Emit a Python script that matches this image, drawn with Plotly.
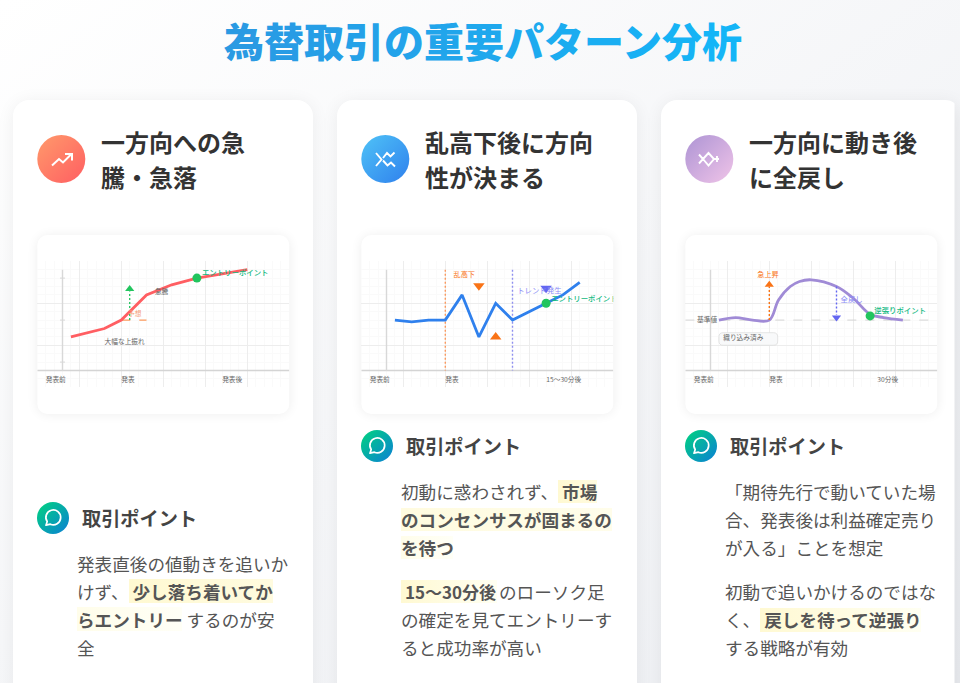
import base64
import plotly.graph_objects as go

# page size, everything below is placed in these pixels
W = 960
H = 683
FONT = "Noto Sans CJK JP"

title = "為替取引の重要パターン分析"
point_label = "取引ポイント"

# mini chart 1
x1 = [40, 80, 100, 130, 160, 190, 250]
y1 = [90, 80, 70, 40, 28, 20, 10]
entry1 = (190, 20)

# mini chart 2
x2 = [40, 60, 80, 100, 120, 140, 160, 180, 220, 240, 260]
y2 = [70, 72, 70, 70, 40, 90, 50, 70, 50, 40, 25]
entry2 = (220, 50)

# mini chart 3
x3 = [40, 60, 80, 100, 111, 125, 136, 150, 180, 200, 220, 236, 259]
y3 = [70, 67, 70, 70, 46, 30, 24, 22, 30, 44, 63, 67, 70]
entry3 = (220, 65)

y_ticks1 = [20, 70, 120]
headings = [["一方向への急", "騰・急落"], ["乱高下後に方向", "性が決まる"], ["一方向に動き後", "に全戻し"]]

# body text lines, <b> parts carry the yellow marker
body1 = ["発表直後の値動きを追いか", "けず、 <b>少し落ち着いてか</b>", "<b>らエントリー</b> するのが安", "全"]
body2 = ["初動に惑わされず、 <b>市場</b>", "<b>のコンセンサスが固まるの</b>", "<b>を待つ</b>",
         "", "の確定を見てエントリーす", "ると成功率が高い"]
body2_bold = "<b>15〜30分後</b>"
body2_rest = "のローソク足"
body3 = ["「期待先行で動いていた場", "合、発表後は利益確定売り", "が入る」ことを想定",
         "初動で追いかけるのではな", "く、 <b>戻しを待って逆張り</b>", "する戦略が有効"]

card_x = [13, 337, 661]
chart_x = [37.3, 361.3, 685.3]
RED = "#ff5e62"
BLUE = "#2f80ed"
PURPLE = "#a08bd6"
GREEN = "#22c55e"
ORANGE = "#f97316"
INDIGO = "#6366f1"
DOTTED = "2px,2px"


def rrect(x0, y0, x1_, y1_, r, fill, extra=""):
    return (f'<rect x="{x0}" y="{y0}" width="{x1_ - x0}" height="{y1_ - y0}" rx="{r}" '
            f'fill="{fill}" {extra}/>')


def grad(name, c0, c1, horiz=False):
    end = 'x2="1" y2="0"' if horiz else 'x2="1" y2="1"'
    return (f'<linearGradient id="{name}" x1="0" y1="0" {end}><stop offset="0" stop-color="{c0}"/>'
            f'<stop offset="1" stop-color="{c1}"/></linearGradient>')


def chat_icon(cx, cy):
    return (f'<path d="M{cx - 7} {cy + 7.2} L{cx - 5.8} {cy + 3.6} A7.4 7.4 0 1 1 {cx - 2.6} {cy + 6.2} Z" '
            'fill="none" stroke="#fff" stroke-width="1.7" stroke-linejoin="round"/>')


# backdrop: page gradient, cards, soft shadows, icon circles and text markers
svg = [f'<svg xmlns="http://www.w3.org/2000/svg" width="{W}" height="{H}" viewBox="0 0 {W} {H}"><defs>',
       grad("page", "#ffffff", "#eceef2"),
       grad("ic1", "#ff9a6b", "#ff5e62"), grad("ic2", "#4fc3f7", "#2f80ed"), grad("ic3", "#ad94d4", "#f0c4e8"),
       grad("ic4", "#00d47e", "#0b7fd6"),
       grad("m1", "#fff9d2", "#fffbdf", True), grad("m2", "#fffbdf", "#fffdea", True),
       grad("m3", "#fffdea", "#fffff6", True), grad("m4", "#fff9d2", "#fffff2", True),
       '<filter id="sh1" x="-20%" y="-20%" width="140%" height="140%"><feGaussianBlur stdDeviation="9"/></filter>',
       '<filter id="sh2" x="-20%" y="-20%" width="140%" height="140%"><feGaussianBlur stdDeviation="6"/></filter>',
       '<clipPath id="view"><rect x="0" y="0" width="954.5" height="683"/></clipPath>',
       '</defs>', f'<rect width="{W}" height="{H}" fill="url(#page)"/>']
for i, cx in enumerate(card_x):
    svg.append(rrect(cx, 102, cx + 300, 760, 16, "#000", 'opacity="0.06" filter="url(#sh1)"'))
    svg.append('<g clip-path="url(#view)">' + rrect(cx, 100, cx + 300, 760, 16, "#fff") + '</g>')
    px = chart_x[i]
    svg.append(rrect(px, 236, px + 252, 414, 10, "#000", 'opacity="0.07" filter="url(#sh2)"'))
    svg.append(rrect(px, 235, px + 252, 414, 10, "#fff"))
    svg.append(f'<circle cx="{px + 24}" cy="159" r="24" fill="url(#ic{i + 1})"/>')
# large icons
svg.append('<path d="M52 165.5 L59 159 L63 162.5 L71 154.5 M65 154 L72 154 L72 160.5" fill="none" '
           'stroke="#fff" stroke-width="2"/>')
svg.append('<path d="M376 153 L381.5 159.5 L376 166 M383 158 L387 153 L390.5 156.5 L394.5 152.5 '
           'M383 160.5 L387.5 165.5 L391 162.5 L395 166.5" fill="none" stroke="#fff" stroke-width="1.9"/>')
svg.append('<path d="M699 154.5 L703 159 L699 163.5 M703 159 L708.5 153 L714 159 L708.5 165.5 L703 159 '
           'M714 159 L719 159 M717 156 L717 162" fill="none" stroke="#fff" stroke-width="1.9"/>')
# small chat icons
for cx, cy in [(53, 518), (377, 446), (701, 446)]:
    svg.append(f'<circle cx="{cx}" cy="{cy}" r="16" fill="url(#ic4)"/>')
    svg.append(chat_icon(cx, cy))
# yellow markers behind the bold text
for x0, y0, x1_, y1_, m in [(129, 579, 273, 603, "m1"), (77, 607, 182, 631, "m3"),
                            (558, 480, 597, 503, "m1"), (401, 508, 612, 531, "m2"), (401, 536, 453, 559, "m3"),
                            (401, 580, 497, 603, "m4"), (760, 608, 921, 632, "m4")]:
    svg.append(rrect(x0, y0, x1_, y1_, 0, f"url(#{m})"))
svg.append('</svg>')
backdrop = "data:image/svg+xml;base64," + base64.b64encode("".join(svg).encode()).decode()

fig = go.Figure()


def add_line(n, xs, ys, color, width, dash="solid", shape="linear"):
    fig.add_trace(go.Scatter(x=xs, y=ys, mode="lines", line=dict(color=color, width=width, dash=dash, shape=shape),
                             hoverinfo="skip", xaxis=f"x{n}", yaxis=f"y{n}"))


def add_marker(n, x, y, color, symbol="circle", size=9):
    fig.add_trace(go.Scatter(x=[x], y=[y], mode="markers", marker=dict(color=color, symbol=symbol, size=size),
                             hoverinfo="skip", xaxis=f"x{n}", yaxis=f"y{n}"))


def add_label(n, x, y, text, color="#666666", size=6.7, pos="middle center", weight=400):
    fig.add_trace(go.Scatter(x=[x], y=[y], mode="text", text=[text], textposition=pos,
                             textfont=dict(family=FONT, color=color, size=size, weight=weight),
                             hoverinfo="skip", xaxis=f"x{n}", yaxis=f"y{n}"))


# axes frame of each mini chart
for n in (1, 2, 3):
    add_line(n, [0, 300], [130, 130], "#d4d4d4", 1.6)
    add_line(n, [30, 30], [10, 130], "#d8d8d8", 1.4)
for t in y_ticks1:
    add_line(1, [27, 33], [t, t], "#d8d8d8", 1)

# chart 1
add_line(1, [100, 130], [70, 70], "#fb9a5e", 1.2, "dash")
add_line(1, [110, 110], [70, 36], GREEN, 1.3, DOTTED)
add_marker(1, 110, 33, GREEN, "triangle-up", 8)
add_line(1, x1, y1, RED, 2.8)
add_marker(1, entry1[0], entry1[1], GREEN)
add_label(1, 116, 63, "予想", "#f4a27a")
add_label(1, 148, 37.5, "急騰")
add_label(1, 104, 97, "大幅な上振れ")
add_label(1, 196, 14, "エントリーポイント", "#10b981", 7.4, "middle right", 500)
add_label(1, 22, 142, "発表前")
add_label(1, 108, 142, "発表")
add_label(1, 232, 142, "発表後")

# chart 2
add_line(2, [100, 100], [10, 130], "#fb9a5e", 1.4, DOTTED)
add_line(2, [180, 180], [10, 130], "#8f90f0", 1.4, DOTTED)
add_line(2, x2, y2, BLUE, 2.8)
add_marker(2, 140, 29, ORANGE, "triangle-down", 10)
add_marker(2, 160, 90, ORANGE, "triangle-up", 10)
add_marker(2, 220, 32, INDIGO, "triangle-down", 10)
add_marker(2, entry2[0], entry2[1], GREEN)
add_label(2, 122.6, 17, "乱高下", "#f97316", 7.2)
add_label(2, 212, 36, "トレンド発生", "#8b8cf6", 7.4)
add_label(2, 226, 45, "エントリーポイント", "#10b981", 7.4, "middle right", 500)
add_label(2, 22, 142, "発表前")
add_label(2, 108, 142, "発表")
add_label(2, 241, 142, "15〜30分後")

# chart 3
add_line(3, [0, 300], [70, 70], "#cfcfcf", 0.9, "dash")
add_line(3, x3, y3, PURPLE, 2.8, shape="spline")
add_line(3, [100, 100], [70, 30], ORANGE, 1.4, DOTTED)
add_marker(3, 100, 28, ORANGE, "triangle-up", 8)
add_line(3, [180, 180], [30, 64], INDIGO, 1.4, DOTTED)
add_marker(3, 180, 67, INDIGO, "triangle-down", 8)
add_marker(3, entry3[0], entry3[1], GREEN)
add_label(3, 26, 70, "基準値")
add_label(3, 98.5, 17, "急上昇", "#f97316", 7.2)
add_label(3, 198, 46.5, "全戻し", "#8b8cf6", 7.4)
add_label(3, 225, 59, "逆張りポイント", "#10b981", 7.4, "middle right", 500)
add_label(3, 69, 92, "織り込み済み")
add_label(3, 22, 142, "発表前")
add_label(3, 108, 142, "発表")
add_label(3, 241, 142, "30分後")

# grid comes from the axes themselves
layout = dict(
    width=W, height=H, margin=dict(l=0, r=0, t=0, b=0), showlegend=False,
    paper_bgcolor="rgba(0,0,0,0)", plot_bgcolor="rgba(0,0,0,0)",
    images=[dict(source=backdrop, xref="paper", yref="paper", x=0, y=1, sizex=1, sizey=1,
                 xanchor="left", yanchor="top", sizing="stretch", layer="below")],
    shapes=[dict(type="path", xref="x3", yref="y3", layer="between",
                 path="M45,85 L105,85 Q110,85 110,90 L110,95 Q110,100 105,100 L45,100 Q40,100 40,95 L40,90 Q40,85 45,85 Z",
                 fillcolor="#f8f9fa", line=dict(color="#dddddd", width=0.8))],
)
for n, px in zip((1, 2, 3), chart_x):
    layout[f"xaxis{n}"] = dict(domain=[px / W, (px + 252) / W], range=[0, 300], dtick=50, tick0=0,
                               showticklabels=False, ticks="", zeroline=False, fixedrange=True,
                               gridcolor="#ededed", gridwidth=1, anchor=f"y{n}",
                               minor=dict(dtick=10, showgrid=True, gridcolor="#fafafa", gridwidth=0.7))
    layout[f"yaxis{n}"] = dict(domain=[1 - 387.3 / H, 1 - 261.3 / H], range=[150, 0], dtick=50, tick0=0,
                               showticklabels=False, ticks="", zeroline=False, fixedrange=True,
                               gridcolor="#ededed", gridwidth=1, anchor=f"x{n}",
                               minor=dict(dtick=10, showgrid=True, gridcolor="#fafafa", gridwidth=0.7))
fig.update_layout(**layout)


def put(x, y, text, size, color, weight=400, xanchor="left"):
    fig.add_annotation(x=x / W, y=1 - y / H, xref="paper", yref="paper", text=text, showarrow=False,
                       xanchor=xanchor, yanchor="middle", align="left", borderpad=0,
                       font=dict(family=FONT, size=size, color=color, weight=weight))


# title, colour fades along the characters like the gradient text
c0 = (42, 154, 227)
c1 = (20, 181, 247)
spans = ""
for i, ch in enumerate(title):
    t = i / (len(title) - 1)
    rgb = [round(a + (b - a) * t) for a, b in zip(c0, c1)]
    spans += f'<span style="color:rgb({rgb[0]},{rgb[1]},{rgb[2]})">{ch}</span>'
put(483, 40, spans, 40, "#2a9ae3", 900, "center")

for i, cx in enumerate(chart_x):
    put(cx + 62.7, 141.5, headings[i][0], 24, "#333333", 700)
    put(cx + 62.7, 176.5, headings[i][1], 24, "#333333", 700)

put(81, 518, point_label, 19.2, "#444444", 700)
put(405, 446, point_label, 19.2, "#444444", 700)
put(729, 446, point_label, 19.2, "#444444", 700)

for text, y in zip(body1, [563, 591, 619, 647]):
    put(76, y, text, 17.6, "#555555")
for text, y in zip(body2, [491, 519, 547, 591, 619, 647]):
    if text:
        put(400, y, text, 17.6, "#555555")
put(403.5, 591, body2_bold, 17, "#555555")
put(498, 591, body2_rest, 17.6, "#555555")
for text, y in zip(body3, [491, 519, 547, 591, 619, 647]):
    put(724, y, text, 17.6, "#555555")

fig.write_html("out.html", config={"displayModeBar": False},
               post_script="document.body.style.margin='0';document.body.style.overflow='hidden';")
